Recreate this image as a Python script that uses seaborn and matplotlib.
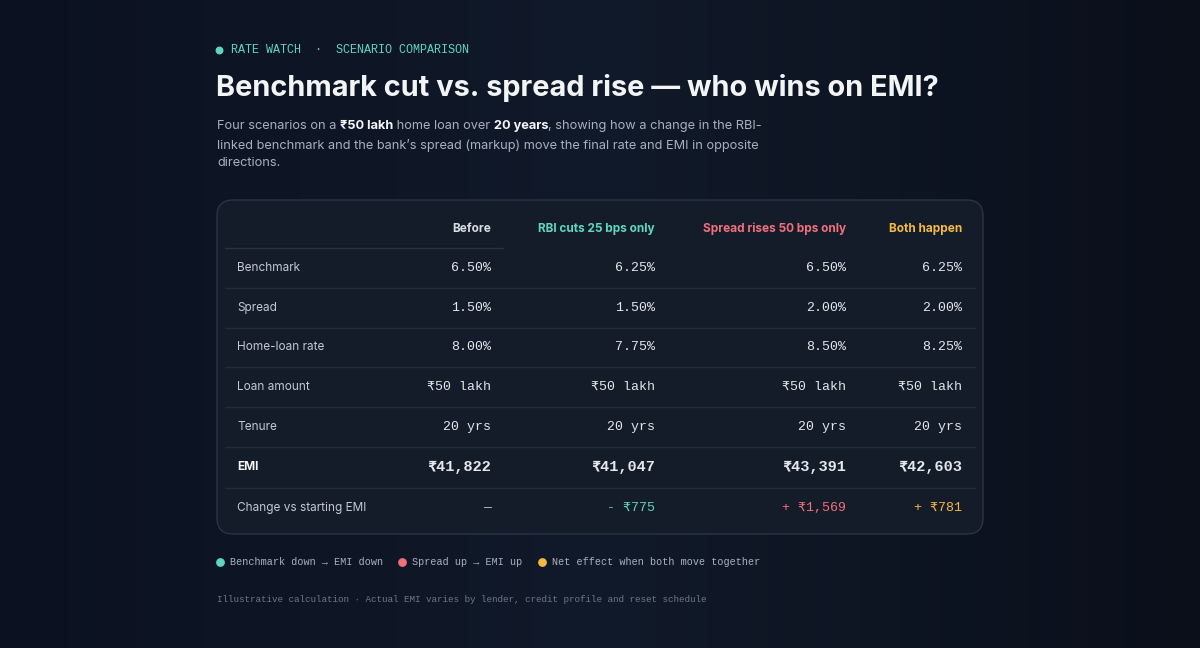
import numpy as np
import matplotlib
matplotlib.use("Agg")
import matplotlib.pyplot as plt
from matplotlib.patches import FancyBboxPatch
import seaborn as sns

sns.set_theme(style="dark")
plt.rcParams['font.family'] = ['DejaVu Sans']

columns = ["Before", "RBI cuts 25 bps only", "Spread rises 50 bps only", "Both happen"]
row_labels = ["Benchmark", "Spread", "Home-loan rate", "Loan amount", "Tenure", "EMI", "Change vs starting EMI"]
benchmark = [6.50, 6.25, 6.50, 6.25]
spread = [1.50, 1.50, 2.00, 2.00]
rate = [8.00, 7.75, 8.50, 8.25]
loan_lakh = [50, 50, 50, 50]
tenure = [20, 20, 20, 20]
emi = [41822, 41047, 43391, 42603]
change = ["—", "- ₹775", "+ ₹1,569", "+ ₹781"]

BG = "#0b1220"
TEAL = "#5fd6c2"
RED = "#f0707c"
YEL = "#f4b943"
col_colors = ["#d8dce4", TEAL, RED, YEL]
MONO = ['Liberation Mono', 'DejaVu Sans Mono']
SANS = ['Inter', 'DejaVu Sans']

fig = plt.figure(figsize=(12, 6.48), dpi=100)
fig.patch.set_facecolor(BG)
ax = fig.add_axes([0, 0, 1, 1])
ax.set_xlim(0, 1200); ax.set_ylim(648, 0); ax.axis("off")
grad = np.linspace(0, 1, 256).reshape(1, -1)
ax.imshow(np.vstack([grad]*2), extent=[0, 1200, 648, 0], aspect="auto",
          cmap=matplotlib.colors.LinearSegmentedColormap.from_list("g", ["#0b1120", "#111a2a", "#0a0f1a"]), zorder=0)

ax.scatter([219], [50], s=22, color=TEAL, zorder=3)
ax.text(231, 50, "RATE WATCH  ·  SCENARIO COMPARISON", color=TEAL, family=MONO, fontsize=8.5,
        va="center", ha="left")
ax.text(216, 88, "Benchmark cut vs. spread rise — who wins on EMI?", color="#f3f4f6", family=SANS,
        fontsize=20.8, fontweight="bold", va="center")
sub = [("Four scenarios on a ", False), ("₹50 lakh", True), (" home loan over ", False), ("20 years", True),
       (", showing how a change in the RBI-", False)]
x = 217
r = fig.canvas.get_renderer()
FS = 9.2
for s, b in sub:
    t = ax.text(x, 126, s, color="#f3f4f6" if b else "#a9b0bd", family=SANS, fontsize=FS,
                fontweight="bold" if b else "normal", va="center")
    x += t.get_window_extent(renderer=r).width
ax.text(217, 145, "linked benchmark and the bank’s spread (markup) move the final rate and EMI in opposite",
        color="#a9b0bd", family=SANS, fontsize=FS, va="center")
ax.text(217, 163, "directions.", color="#a9b0bd", family=SANS, fontsize=FS, va="center")

box = FancyBboxPatch((217, 200), 766, 334, boxstyle="round,pad=0,rounding_size=16",
                     facecolor="#151c29", edgecolor="#2c3444", lw=1, zorder=2)
ax.add_patch(box)

col_x = [491, 655, 846, 962]
header_y = 229
row_y = [268, 308, 347, 387, 427, 467, 508]
for cx, c, cc in zip(col_x, columns, col_colors):
    ax.text(cx, header_y, c, color=cc, family=SANS, fontsize=8.5, fontweight="bold", ha="right", va="center", zorder=4)
ax.plot([225, 503], [248, 248], color="#2a3242", lw=1, zorder=3)
for y in [288, 328, 367, 407, 447, 488]:
    ax.plot([225, 975], [y, y], color="#242c3b", lw=1, zorder=3)

cells = [
    [f"{v:.2f}%" for v in benchmark],
    [f"{v:.2f}%" for v in spread],
    [f"{v:.2f}%" for v in rate],
    [f"₹{v} lakh" for v in loan_lakh],
    [f"{v} yrs" for v in tenure],
    [f"₹{v:,}" for v in emi],
    change,
]
for i, (lab, vals, y) in enumerate(zip(row_labels, cells, row_y)):
    bold = lab == "EMI"
    ax.text(237, y, lab, color="#f3f4f6" if bold else "#c3c8d2", family=SANS, fontsize=8.5,
            fontweight="bold" if bold else "normal", va="center", zorder=4)
    for j, (cx, v) in enumerate(zip(col_x, vals)):
        colr = "#e4e7ec"
        if i == 6:
            colr = ["#c3c8d2", TEAL, RED, YEL][j]
        ax.text(cx, y, v, color=colr, family=MONO, fontsize=11 if bold else 9.5,
                fontweight="bold" if bold else "normal", ha="right", va="center", zorder=4)

leg = [("Benchmark down → EMI down", TEAL, 219), ("Spread up → EMI up", RED, 401), ("Net effect when both move together", YEL, 541)]
for s, c, lx in leg:
    ax.scatter([lx + 1], [562], s=28, color=c, zorder=3)
    ax.text(lx + 11, 562, s, color="#aab1bd", family=MONO, fontsize=7.3, va="center")
ax.text(217, 600, "Illustrative calculation · Actual EMI varies by lender, credit profile and reset schedule",
        color="#6f7787", family=MONO, fontsize=6.7, va="center")

fig.savefig("out.png", dpi=100, facecolor=BG)
